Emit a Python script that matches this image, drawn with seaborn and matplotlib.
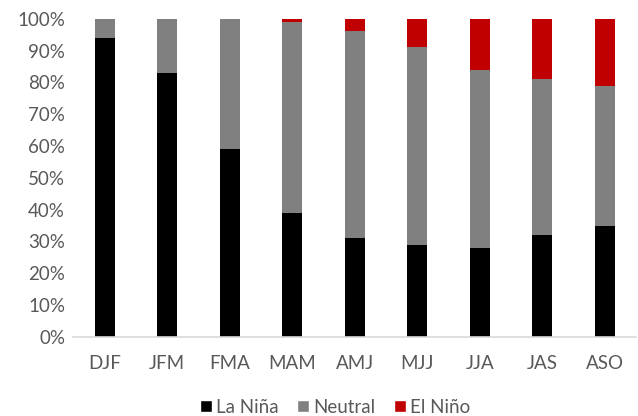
import matplotlib
matplotlib.use("Agg")
import matplotlib.pyplot as plt
import seaborn as sns
import pandas as pd
from matplotlib.patches import Patch
from matplotlib.ticker import PercentFormatter

seasons = ["DJF", "JFM", "FMA", "MAM", "AMJ", "MJJ", "JJA", "JAS", "ASO"]
la_nina = [94, 83, 59, 39, 31, 29, 28, 32, 35]
neutral = [6, 17, 41, 60, 65, 62, 56, 49, 44]
el_nino = [0, 0, 0, 1, 4, 9, 16, 19, 21]

colors = {"La Niña": "#000000", "Neutral": "#808080", "El Niño": "#c00000"}

sns.set_theme(style="white")
plt.rcParams["font.family"] = ["Lato", "DejaVu Sans"]

df = pd.DataFrame({"season": seasons, "La Niña": la_nina,
                   "Neutral": neutral, "El Niño": el_nino})
df["cum_neutral"] = df["La Niña"] + df["Neutral"]
df["cum_total"] = df["cum_neutral"] + df["El Niño"]

fig, ax = plt.subplots(figsize=(6.38, 4.16), dpi=100)
fig.subplots_adjust(left=0.115, right=0.997, top=0.955, bottom=0.19)

width = 0.32
sns.barplot(data=df, x="season", y="cum_total", color=colors["El Niño"],
            width=width, ax=ax, saturation=1, linewidth=0)
sns.barplot(data=df, x="season", y="cum_neutral", color=colors["Neutral"],
            width=width, ax=ax, saturation=1, linewidth=0)
sns.barplot(data=df, x="season", y="La Niña", color=colors["La Niña"],
            width=width, ax=ax, saturation=1, linewidth=0)

ax.set_ylim(0, 100)
ax.set_yticks(range(0, 101, 10))
ax.yaxis.set_major_formatter(PercentFormatter(decimals=0))
ax.set_xlabel("")
ax.set_ylabel("")
ax.set_xlim(-0.5, len(seasons) - 0.5)

for s in ["top", "right", "left"]:
    ax.spines[s].set_visible(False)
ax.spines["bottom"].set_color("#d9d9d9")
ax.spines["bottom"].set_linewidth(1.2)

ax.tick_params(axis="both", length=0, labelsize=13.5, colors="#595959")
ax.tick_params(axis="x", pad=13)
ax.tick_params(axis="y", pad=6)

handles = [Patch(facecolor=colors[k], label=k) for k in ["La Niña", "Neutral", "El Niño"]]
leg = fig.legend(handles=handles, loc="lower center", ncol=3, frameon=False,
                 bbox_to_anchor=(0.525, -0.04), fontsize=13.5,
                 handlelength=0.65, handleheight=0.65, handletextpad=0.2,
                 columnspacing=1.0)
for t in leg.get_texts():
    t.set_color("#595959")

fig.savefig("out.png", dpi=100)
